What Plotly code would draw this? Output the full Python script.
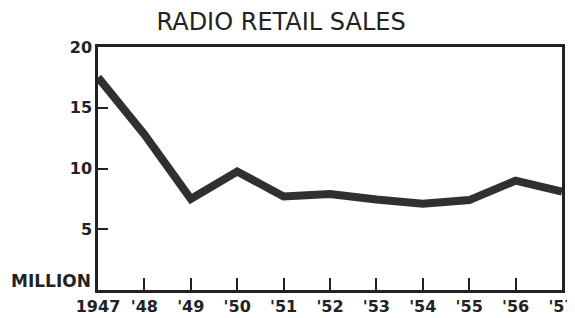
import plotly.graph_objects as go

years = [1947, 1948, 1949, 1950, 1951, 1952, 1953, 1954, 1955, 1956, 1957]
sales_millions = [17.5, 12.8, 7.5, 9.75, 7.7, 7.9, 7.45, 7.1, 7.4, 9.0, 8.1]
x_tick_labels = ["1947", "'48", "'49", "'50", "'51", "'52", "'53", "'54", "'55", "'56", "'57"]
y_tick_vals = [0, 5, 10, 15, 20]
y_tick_labels = ["", "5", "10", "15", "20"]
unit_label = "MILLION"

ink = "#222222"

fig = go.Figure()
fig.add_trace(go.Scatter(
    x=years, y=sales_millions, mode="lines",
    line=dict(color="#303030", width=8),
    hoverinfo="skip",
))

# page has an 8px body margin, so margins are offset to compensate
fig.update_layout(
    width=575, height=318,
    margin=dict(l=90, r=21, t=39, b=36, autoexpand=False),
    paper_bgcolor="white", plot_bgcolor="white",
    showlegend=False,
    title=dict(
        text="RADIO RETAIL SALES",
        font=dict(family="DejaVu Sans", size=24, color=ink, weight=500),
        x=0.475, xanchor="center", xref="container",
        y=0.957, yanchor="middle", yref="container",
    ),
)

fig.add_annotation(
    text=unit_label, xref="paper", yref="y", x=0, y=y_tick_vals[0],
    xanchor="right", yanchor="bottom", xshift=-5, yshift=-3, showarrow=False,
    font=dict(family="DejaVu Sans", size=17, color=ink, weight="bold"),
)

fig.update_xaxes(
    range=[1947, 1957], automargin=False,
    tickmode="array", tickvals=years, ticktext=x_tick_labels,
    ticks="inside", ticklen=12, tickwidth=2, tickcolor=ink,
    ticklabelstandoff=0,
    showline=True, linewidth=2.5, linecolor=ink, mirror=True,
    showgrid=False, zeroline=False,
    tickfont=dict(family="DejaVu Sans", size=16, color=ink, weight="bold"),
)
fig.update_yaxes(
    range=[0, 20], automargin=False,
    tickmode="array", tickvals=y_tick_vals, ticktext=y_tick_labels,
    ticks="inside", ticklen=10, tickwidth=2, tickcolor=ink,
    showline=True, linewidth=2.5, linecolor=ink, mirror=True,
    showgrid=False, zeroline=False,
    tickfont=dict(family="DejaVu Sans", size=16, color=ink, weight="bold"),
)

fig.write_html("out.html")
